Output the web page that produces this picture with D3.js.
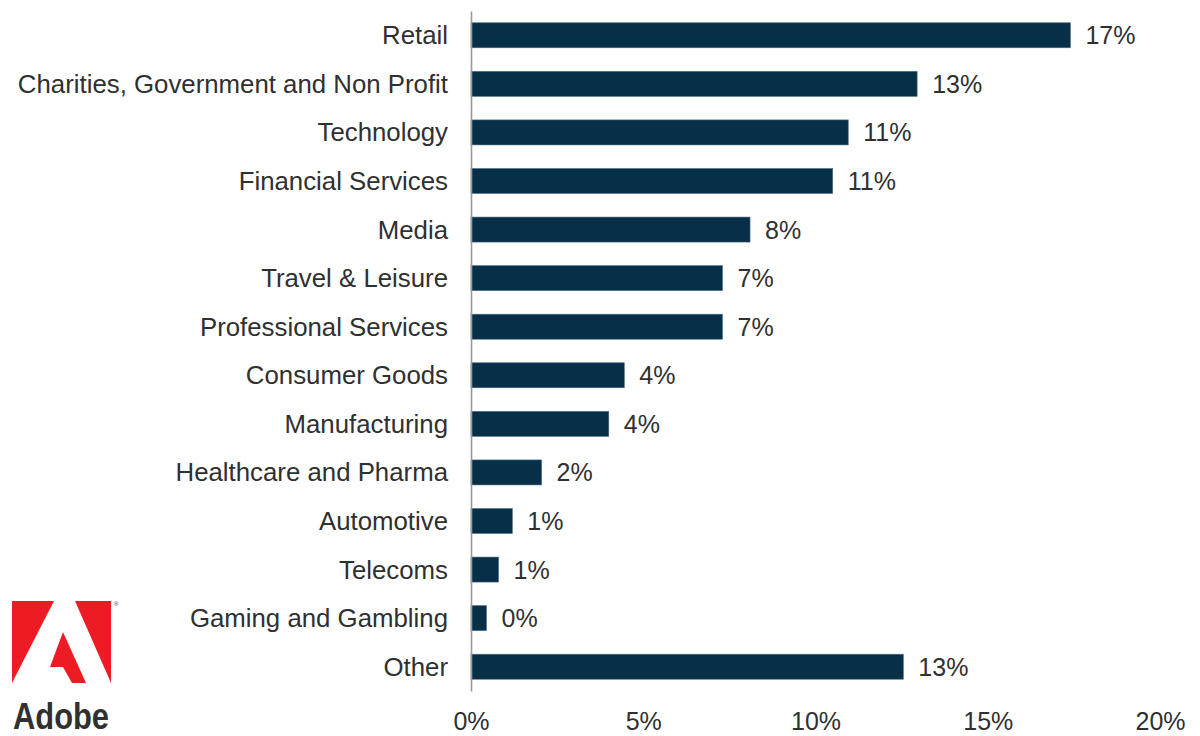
<!DOCTYPE html>
<html>
<head>
<meta charset="utf-8">
<script src="https://cdn.jsdelivr.net/npm/d3@7"></script>
<style>
  html, body { margin: 0; padding: 0; background: #ffffff; }
  svg { display: block; }
  text { font-family: "Liberation Sans", Arial, sans-serif; fill: #303030; }
</style>
</head>
<body>
<svg id="chart" width="1200" height="736"></svg>
<script>
// Share of respondents by industry sector
const categories = [
  "Retail",
  "Charities, Government and Non Profit",
  "Technology",
  "Financial Services",
  "Media",
  "Travel & Leisure",
  "Professional Services",
  "Consumer Goods",
  "Manufacturing",
  "Healthcare and Pharma",
  "Automotive",
  "Telecoms",
  "Gaming and Gambling",
  "Other"
];
const shares = [0.174, 0.1295, 0.1095, 0.105, 0.081, 0.073, 0.073, 0.0445, 0.040, 0.0205, 0.012, 0.008, 0.0045, 0.1255];
const xTicks = [0, 0.05, 0.10, 0.15, 0.20];

const svg = d3.select("#chart");
const fmt = d3.format(".0%");

const x = d3.scaleLinear().domain([0, 0.20]).range([471, 1160]);
const y = d3.scaleBand().domain(categories).range([11, 691])
  .paddingInner(0.485).paddingOuter(0.2425);

// bars
svg.append("g").selectAll("rect")
  .data(categories)
  .join("rect")
  .attr("x", x(0))
  .attr("y", d => y(d))
  .attr("width", (d, i) => x(shares[i]) - x(0))
  .attr("height", y.bandwidth())
  .attr("fill", "#072f48")
  .attr("stroke", "#4d6f84")
  .attr("stroke-width", 0.6);

// value labels
svg.append("g").selectAll("text")
  .data(categories)
  .join("text")
  .attr("x", (d, i) => x(shares[i]) + 15)
  .attr("y", d => y(d) + y.bandwidth() / 2 + 9)
  .attr("font-size", 25)
  .text((d, i) => fmt(shares[i]));

// category axis
const yAxis = svg.append("g")
  .attr("transform", `translate(${x(0)},0)`)
  .call(d3.axisLeft(y).tickSize(0).tickSizeOuter(0).tickPadding(23));
yAxis.select(".domain").attr("stroke", "#9a9a9a").attr("stroke-width", 1.6);
yAxis.selectAll("text")
  .attr("font-size", 25.8)
  .attr("dy", null)
  .attr("y", 9)
  .attr("font-family", "Liberation Sans, Arial, sans-serif")
  .attr("fill", "#303030");

// percentage axis
const xAxis = svg.append("g")
  .attr("transform", "translate(0,692)")
  .call(d3.axisBottom(x).tickValues(xTicks).tickFormat(fmt).tickSize(0));
xAxis.select(".domain").remove();
xAxis.selectAll("text")
  .attr("dy", null)
  .attr("y", 38)
  .attr("font-size", 25)
  .attr("font-family", "Liberation Sans, Arial, sans-serif")
  .attr("fill", "#303030");

// brand mark
const logo = svg.append("g");
logo.append("path").attr("fill", "#ed1c24")
  .attr("d", "M12,601 L54,601 L12,683 Z");
logo.append("path").attr("fill", "#ed1c24")
  .attr("d", "M75,601 L111,601 L111,683 Z");
logo.append("path").attr("fill", "#ed1c24")
  .attr("d", "M63,632 L86,683 L72,683 L63,667 L50,667 Z");
logo.append("text")
  .attr("x", 114).attr("y", 606)
  .attr("font-size", 6).attr("fill", "#777")
  .text("®");
logo.append("text")
  .attr("x", 13).attr("y", 729)
  .attr("font-size", 36)
  .attr("font-weight", "bold")
  .attr("font-family", "Liberation Sans Narrow, DejaVu Sans Condensed, Arial, sans-serif")
  .attr("textLength", 96)
  .attr("lengthAdjust", "spacingAndGlyphs")
  .attr("fill", "#1a1a1a")
  .text("Adobe");
</script>
</body>
</html>
